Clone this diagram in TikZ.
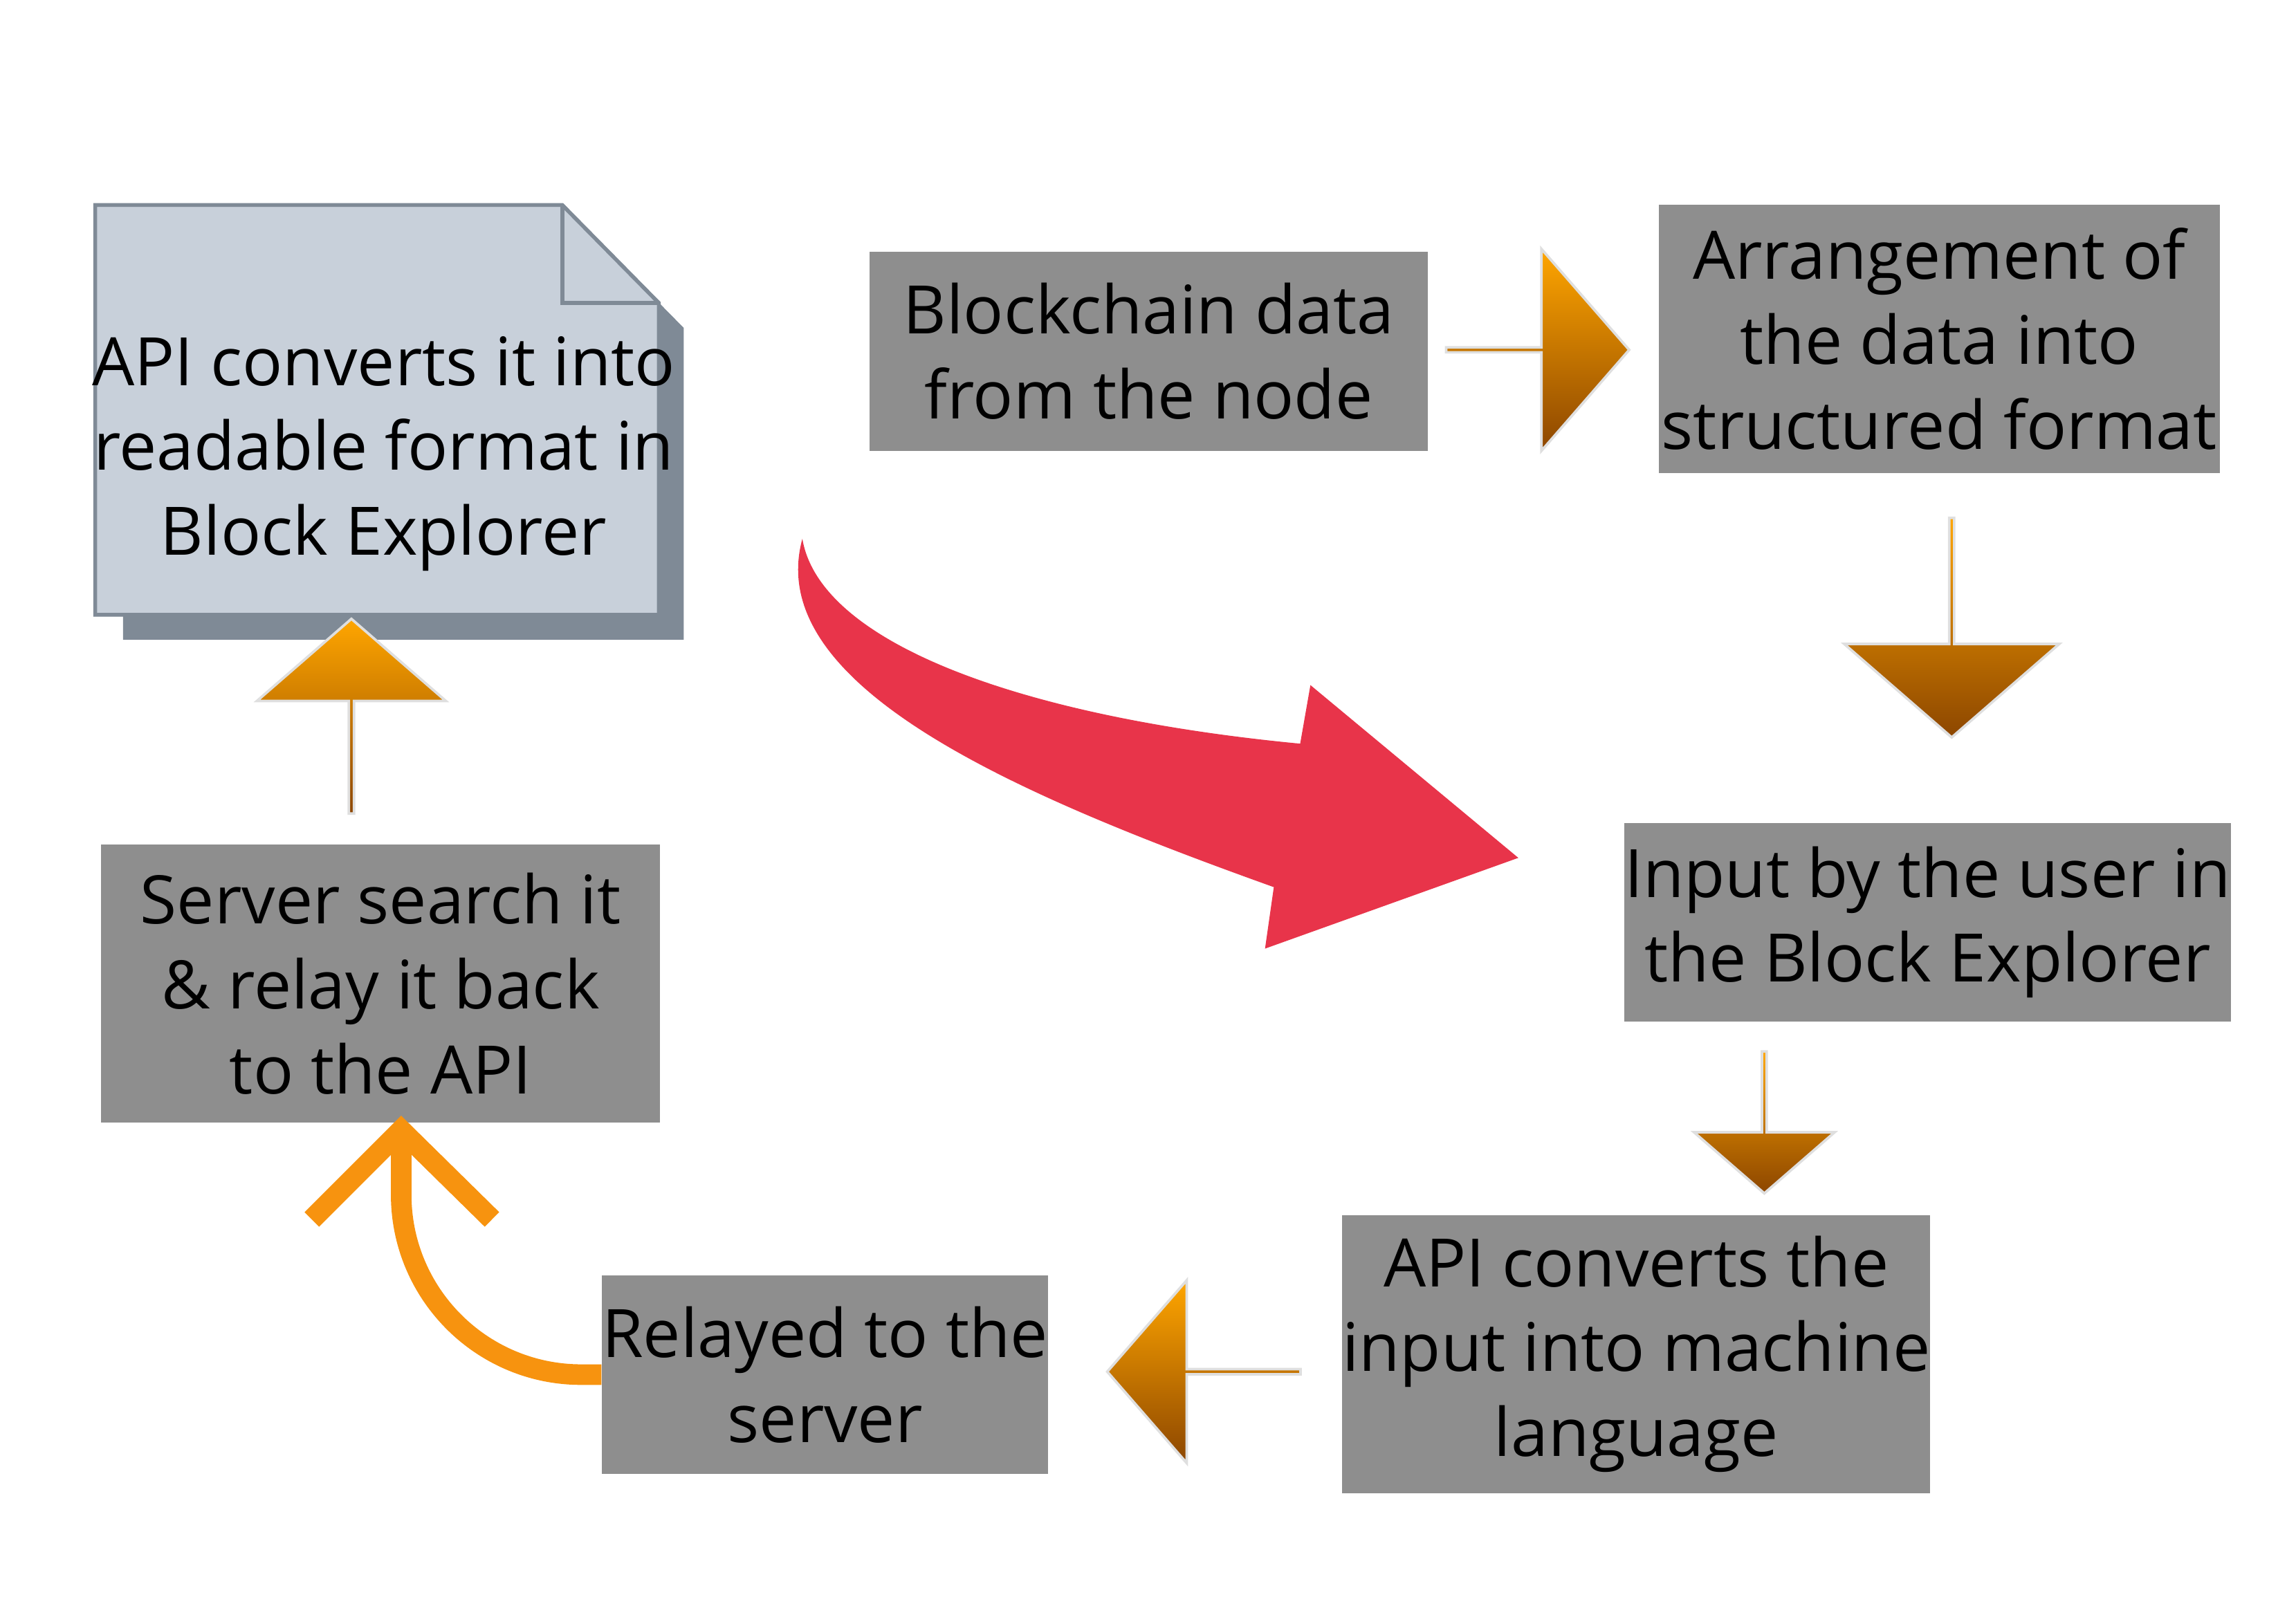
\documentclass[tikz,border=0pt]{standalone}
\usepackage{fontspec}
\setmainfont{Open Sans}
\usetikzlibrary{shapes.arrows}
\definecolor{boxgray}{HTML}{8E8E8E}
\definecolor{docfill}{HTML}{C8D0DA}
\definecolor{docline}{HTML}{7F8A96}
\definecolor{flowred}{HTML}{E8344A}
\definecolor{flowline}{HTML}{F7930F}
\tikzset{
  stage/.style={fill=boxgray, inner sep=0pt, align=center,
    font=\fontsize{26}{33}\selectfont},
  fat/.style={single arrow, single arrow tip angle=98, inner sep=0pt,
    top color=orange!70!yellow, bottom color=orange!55!black,
    draw=white!75!gray, line width=1pt}
}
\begin{document}
\begin{tikzpicture}[x=0.02cm,y=-0.02cm]
  \useasboundingbox (0,0) rectangle (1562,1109);
  % boxes
  \node[stage, minimum width=7.62cm, minimum height=2.72cm] (chain) at (784.5,240) {Blockchain data\\from the node};
  \node[stage, minimum width=7.66cm, minimum height=3.66cm] (arrange) at (1324.5,231.5) {Arrangement of\\the data into\\structured format};
  \node[stage, minimum width=8.26cm, minimum height=2.72cm] (input) at (1316.5,630) {Input by the user in\\the Block Explorer};
  \node[stage, minimum width=7.62cm, minimum height=3.8cm] (machine) at (1117.5,925) {API converts the\\input into machine\\language};
  \node[stage, minimum width=6.06cm, minimum height=2.72cm] (relay) at (563.5,939) {Relayed to the\\server};
  \node[stage, minimum width=7.64cm, minimum height=3.8cm] (server) at (260,672) {Server search it\\\& relay it back\\to the API};
  % document
  \fill[docline] (84,157) -- (401,157) -- (467,224) -- (467,437) -- (84,437) -- cycle;
  \draw[docline, fill=docfill, line width=1.5pt] (65,140) -- (384,140) -- (450,207) -- (450,420) -- (65,420) -- cycle;
  \draw[docline, line width=1.5pt] (384,140) -- (384,207) -- (450,207);
  \node[align=center, font=\fontsize{26}{33}\selectfont] (doc) at (262,310) {API converts it into\\readable format in\\Block Explorer};
  % fat arrows
  \node[fat, minimum height=2.5cm, minimum width=2.76cm, single arrow head extend=0.71cm] (a1) at (1049.5,239) {};
  \node[fat, shape border rotate=270, minimum height=3cm, minimum width=2.94cm, single arrow head extend=0.76cm] (a2) at (1333,428) {};
  \node[fat, shape border rotate=270, minimum height=1.94cm, minimum width=1.92cm, single arrow head extend=0.51cm] (a3) at (1205,766) {};
  \node[fat, shape border rotate=180, minimum height=2.64cm, minimum width=2.5cm, single arrow head extend=0.6cm] (a4) at (823,937) {};
  \node[fat, shape border rotate=90, minimum height=2.66cm, minimum width=2.58cm, single arrow head extend=0.63cm] (a5) at (240,490) {};
  % relay back to server
  \coordinate (tip) at (274,772);
  \draw[flowline, line width=8pt, rounded corners=70pt] (relay.west) -| (tip);
  \draw[flowline, line width=8pt] (213,833) -- (tip) -- (336,833);
  % red swoosh
  \fill[flowred] (548,368) .. controls (520,470) and (700,545) .. (870,606)
    -- (864,648) -- (1037,586) -- (895,468) -- (888,508)
    .. controls (700,490) and (560,440) .. (548,368) -- cycle;
\end{tikzpicture}
\end{document}
